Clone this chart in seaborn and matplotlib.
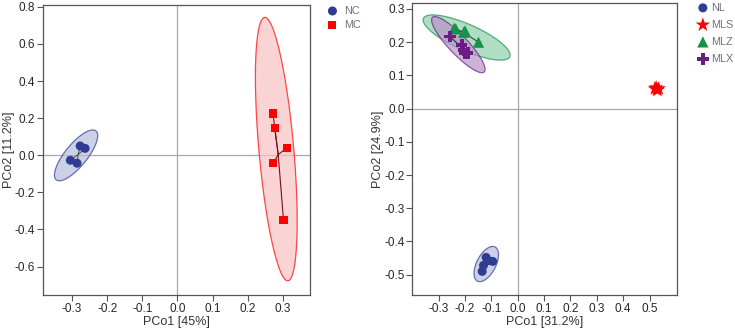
import numpy as np
import pandas as pd
import seaborn as sns
import matplotlib.pyplot as plt

# ---- data: left panel (PCo1 45% / PCo2 11.2%) ----
nc_x = [-0.277, -0.263, -0.305, -0.286]
nc_y = [0.050, 0.037, -0.027, -0.043]
mc_x = [0.272, 0.277, 0.311, 0.273, 0.302]
mc_y = [0.225, 0.145, 0.039, -0.043, -0.350]

# ---- data: right panel (PCo1 31.2% / PCo2 24.9%) ----
nl_x = [-0.120, -0.095, -0.130, -0.135, -0.112]
nl_y = [-0.448, -0.460, -0.472, -0.490, -0.458]
mls_x = [0.520, 0.530, 0.525, 0.535, 0.528]
mls_y = [0.060, 0.055, 0.063, 0.060, 0.058]
mlz_x = [-0.241, -0.200, -0.149, -0.235, -0.205]
mlz_y = [0.242, 0.234, 0.200, 0.240, 0.230]
mlx_x = [-0.257, -0.213, -0.200, -0.206, -0.190]
mlx_y = [0.217, 0.192, 0.166, 0.176, 0.168]

# confidence ellipses: centre, half extents, x of the top point
ell_groups = ["NC", "MC", "NL", "MLZ", "MLX"]
ell_cx = [-0.2887, 0.2815, -0.1195, -0.194, -0.2255]
ell_cy = [-0.0007, 0.033, -0.468, 0.214, 0.1925]
ell_ax = [0.0616, 0.0595, 0.0465, 0.165, 0.1015]
ell_ay = [0.137, 0.710, 0.053, 0.068, 0.0845]
ell_top_x = [-0.241, 0.249, -0.095, -0.322, -0.315]

colors = {"NC": "#2F3C92", "MC": "#FF0000", "NL": "#2F3C92", "MLS": "#FF0000",
          "MLZ": "#16904A", "MLX": "#6B1D86"}
fills = {"NC": "#B9BEDD", "MC": "#F9C2C2", "NL": "#B9BEDD", "MLZ": "#8FD0AC", "MLX": "#B894C6"}
spoke = {"NC": "#555555", "MC": "#7A0F1A", "NL": "#333366", "MLS": "#7A0F1A",
         "MLZ": "#2E4A3A", "MLX": "#3D1A4A"}
markers = {"NC": "o", "MC": "s", "NL": "o", "MLS": "*", "MLZ": "^", "MLX": "P"}
sizes = {"NC": 42, "MC": 34, "NL": 42, "MLS": 120, "MLZ": 65, "MLX": 70}


def frame(groups):
    rows = []
    for g, (xs, ys) in groups.items():
        for x, y in zip(xs, ys):
            rows.append({"x": x, "y": y, "Group": g})
    return pd.DataFrame(rows)


df_left = frame({"NC": (nc_x, nc_y), "MC": (mc_x, mc_y)})
df_right = frame({"NL": (nl_x, nl_y), "MLS": (mls_x, mls_y),
                  "MLZ": (mlz_x, mlz_y), "MLX": (mlx_x, mlx_y)})

sns.set_theme(style="white")
plt.rcParams["font.family"] = ["Liberation Sans", "DejaVu Sans"]

fig = plt.figure(figsize=(7.35, 3.31), dpi=100)
ax1 = fig.add_axes([0.058, 0.109, 0.364, 0.876])
ax2 = fig.add_axes([0.561, 0.109, 0.360, 0.882])


def draw_ellipse(ax, g):
    i = ell_groups.index(g)
    cx, cy, a, b = ell_cx[i], ell_cy[i], ell_ax[i], ell_ay[i]
    d = np.arccos(np.clip((ell_top_x[i] - cx) / a, -1, 1))
    t = np.linspace(0, 2 * np.pi, 200)
    ex = cx + a * np.cos(t)
    ey = cy + b * np.cos(t + d)
    ax.fill(ex, ey, facecolor=fills[g], alpha=0.7, edgecolor=colors[g],
            linewidth=0.9, zorder=1)


def draw_panel(ax, df, order, leg_x, leg_y, spacing, textpad):
    for g in order:
        if g in ell_groups:
            draw_ellipse(ax, g)
    for g in order:
        sub = df[df["Group"] == g]
        mx, my = sub["x"].mean(), sub["y"].mean()
        for x, y in zip(sub["x"], sub["y"]):
            ax.plot([mx, x], [my, y], color=spoke[g], linewidth=0.8, zorder=2)
    for g in order:
        sub = df[df["Group"] == g]
        sns.scatterplot(data=sub, x="x", y="y", marker=markers[g], s=sizes[g],
                        color=colors[g], edgecolor="none", linewidth=0,
                        label=g, ax=ax, zorder=3)
    ax.axhline(0, color="#A8A8A8", linewidth=0.9, zorder=0)
    ax.axvline(0, color="#A8A8A8", linewidth=0.9, zorder=0)
    for s in ax.spines.values():
        s.set_color("#555555")
        s.set_linewidth(0.9)
    ax.tick_params(axis="both", which="major", direction="out", length=4,
                   width=0.8, color="#555555", labelsize=8.5, pad=1.5,
                   bottom=True, left=True)
    leg = ax.legend(loc="upper left", bbox_to_anchor=(leg_x, leg_y), frameon=False,
                    fontsize=7.8, handlelength=1.0, handletextpad=textpad,
                    labelspacing=spacing, borderaxespad=0, borderpad=0, markerscale=1.0)
    for txt in leg.get_texts():
        txt.set_color("#707070")


draw_panel(ax1, df_left, ["NC", "MC"], 1.063, 0.997, 0.4, 0.6)
ax1.set_xlim(-0.384, 0.378)
ax1.set_ylim(-0.753, 0.81)
ax1.set_xticks([-0.3, -0.2, -0.1, 0.0, 0.1, 0.2, 0.3])
ax1.set_yticks([-0.6, -0.4, -0.2, 0.0, 0.2, 0.4, 0.6, 0.8])
ax1.set_xticklabels(["-0.3", "-0.2", "-0.1", "0.0", "0.1", "0.2", "0.3"])
ax1.set_yticklabels(["-0.6", "-0.4", "-0.2", "0.0", "0.2", "0.4", "0.6", "0.8"])
ax1.set_xlabel("PCo1 [45%]", fontsize=9, color="#333333", labelpad=1)
ax1.set_ylabel("PCo2 [11.2%]", fontsize=9, color="#333333", labelpad=0)

draw_panel(ax2, df_right, ["NL", "MLS", "MLZ", "MLX"], 1.0775, 1.001, 0.65, 0.25)
ax2.set_xlim(-0.40, 0.604)
ax2.set_ylim(-0.561, 0.318)
xt = [-0.3, -0.2, -0.1, 0.0, 0.1, 0.2, 0.3, 0.4, 0.5]
yt = [-0.5, -0.4, -0.3, -0.2, -0.1, 0.0, 0.1, 0.2, 0.3]
ax2.set_xticks(xt)
ax2.set_yticks(yt)
ax2.set_xticklabels([f"{v:.1f}" for v in xt])
ax2.set_yticklabels([f"{v:.1f}" for v in yt])
ax2.set_xlabel("PCo1 [31.2%]", fontsize=9, color="#333333", labelpad=1)
ax2.set_ylabel("PCo2 [24.9%]", fontsize=9, color="#333333", labelpad=0)

fig.savefig("out.png", dpi=100)
